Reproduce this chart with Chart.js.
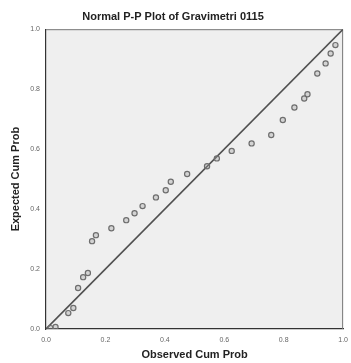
<!DOCTYPE html>
<html>
<head>
<meta charset="utf-8">
<script src="https://cdn.jsdelivr.net/npm/chart.js@4/dist/chart.umd.min.js"></script>
<style>
html,body{margin:0;padding:0;background:#fff;}
#wrap{width:351px;height:363px;}
</style>
</head>
<body>
<div id="wrap"><canvas id="c" width="351" height="363"></canvas></div>
<script>
const titleText = "Normal P-P Plot of Gravimetri 0115";
const xTitle = "Observed Cum Prob";
const yTitle = "Expected Cum Prob";
const tickValues = [0.0, 0.2, 0.4, 0.6, 0.8, 1.0];
const observed = [0.015,0.032,0.075,0.092,0.108,0.125,0.141,0.155,0.168,0.22,0.27,0.298,0.325,0.37,0.403,0.42,0.475,0.542,0.575,0.625,0.692,0.758,0.797,0.836,0.869,0.88,0.913,0.941,0.958,0.974];
const expected = [0.003,0.007,0.053,0.07,0.137,0.173,0.187,0.293,0.313,0.336,0.363,0.386,0.41,0.439,0.463,0.491,0.517,0.543,0.569,0.594,0.619,0.647,0.697,0.739,0.769,0.783,0.852,0.886,0.919,0.947];
const refLine = [0, 1];

const font = 'Arial, "Liberation Sans", sans-serif';

const framePlugin = {
  id: 'frame',
  beforeDatasetsDraw(chart) {
    const a = chart.chartArea, ctx = chart.ctx;
    ctx.save();
    ctx.strokeStyle = '#777';
    ctx.lineWidth = 1;
    ctx.beginPath();
    ctx.moveTo(a.left, a.top + 0.5);
    ctx.lineTo(a.right - 0.5, a.top + 0.5);
    ctx.lineTo(a.right - 0.5, a.bottom);
    ctx.stroke();
    ctx.restore();
  }
};
const bgPlugin = {
  id: 'bg',
  beforeDraw(chart) {
    const a = chart.chartArea, ctx = chart.ctx;
    ctx.save();
    ctx.fillStyle = '#efefef';
    ctx.fillRect(a.left, a.top, a.right - a.left, a.bottom - a.top);
    ctx.restore();
  }
};

new Chart(document.getElementById('c'), {
  type: 'scatter',
  data: {
    datasets: [
      {
        data: observed.map((x, i) => ({x: x, y: expected[i]})),
        pointStyle: 'circle',
        pointRadius: 2.6,
        borderWidth: 1.2,
        borderColor: '#6e6e6e',
        backgroundColor: 'rgba(160,160,160,0.35)',
        order: 1
      },
      {
        type: 'line',
        data: refLine.map(v => ({x: v, y: v})),
        borderColor: '#505050',
        borderWidth: 1.6,
        pointRadius: 0,
        fill: false,
        order: 2
      }
    ]
  },
  plugins: [bgPlugin, framePlugin],
  options: {
    responsive: false,
    animation: false,
    layout: {padding: {left: 0, right: 5, top: 0, bottom: 0}},
    plugins: {
      legend: {display: false},
      tooltip: {enabled: false},
      title: {
        display: true,
        text: titleText,
        color: '#222',
        font: {family: font, size: 11, weight: 'bold'},
        padding: {top: 10, bottom: 6}
      }
    },
    scales: {
      x: {
        type: 'linear',
        min: 0, max: 1,
        afterFit(s) { s.height = 34; },
        afterBuildTicks(s) { s.ticks = tickValues.map(v => ({value: v})); },
        grid: {display: false, drawOnChartArea: false, drawTicks: true, tickLength: 4, color: '#333'},
        border: {display: true, color: '#333', width: 1.2},
        ticks: {
          color: '#666', font: {family: font, size: 7}, padding: 3,
          callback: v => v.toFixed(1)
        },
        title: {display: true, text: xTitle, color: '#222', font: {family: font, size: 11, weight: 'bold'}, padding: {top: 4, bottom: 1}}
      },
      y: {
        type: 'linear',
        min: 0, max: 1,
        afterFit(s) { s.width = 46; },
        afterBuildTicks(s) { s.ticks = tickValues.map(v => ({value: v})); },
        grid: {display: false, drawOnChartArea: false, drawTicks: true, tickLength: 4, color: '#333'},
        border: {display: true, color: '#333', width: 1.2},
        ticks: {
          color: '#666', font: {family: font, size: 7}, padding: 2,
          callback: v => v.toFixed(1)
        },
        title: {display: true, text: yTitle, color: '#222', font: {family: font, size: 11, weight: 'bold'}, padding: {top: 9, bottom: 4}}
      }
    }
  }
});
</script>
</body>
</html>
